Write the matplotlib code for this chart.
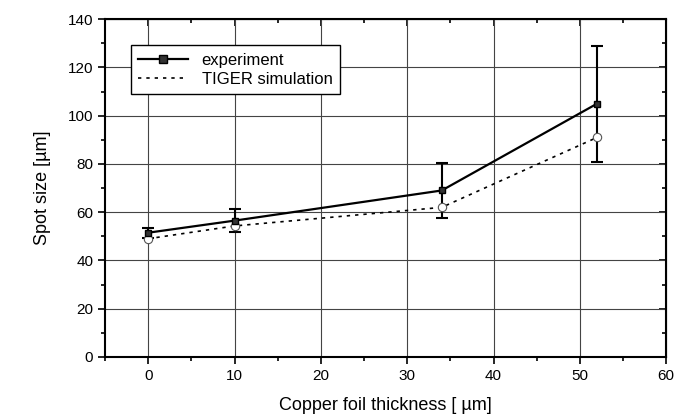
import matplotlib
matplotlib.use("Agg")
import matplotlib.pyplot as plt
from matplotlib.lines import Line2D
from matplotlib.ticker import MultipleLocator

plt.rcParams['font.family'] = ['Liberation Sans', 'DejaVu Sans']

# data
thickness = [0, 10, 34, 52]
exp_size = [51.5, 56.5, 69, 105]
exp_err = [2, 4.8, 11.5, 24]
sim_size = [49, 54.3, 62, 91]

fig = plt.figure(figsize=(6.84, 4.17), dpi=100)
ax = fig.add_axes([0.1535, 0.144, 0.8205, 0.81])

ax.errorbar(thickness, exp_size, yerr=exp_err, color='black', lw=1.6,
            marker='s', ms=5, mfc='#333333', mec='black', capsize=4,
            capthick=1.5, elinewidth=1.5, zorder=3)
ax.plot(thickness, sim_size, color='black', ls=(0, (2, 3)), lw=1.2,
        marker='o', ms=6, mfc='white', mec='#555555', mew=0.8, zorder=3)

ax.set_xlim(-5, 60)
ax.set_ylim(0, 140)
ax.xaxis.set_major_locator(MultipleLocator(10))
ax.xaxis.set_minor_locator(MultipleLocator(5))
ax.yaxis.set_major_locator(MultipleLocator(20))
ax.yaxis.set_minor_locator(MultipleLocator(10))
ax.grid(True, which='major', color='#444444', lw=0.8)

ax.tick_params(which='both', direction='out', labelsize=11, width=1.2)
ax.tick_params(which='major', length=5)
ax.tick_params(which='minor', length=3)
for s in ax.spines.values():
    s.set_linewidth(1.5)

# inward ticks on top and right
axt = ax.secondary_xaxis('top')
axt.xaxis.set_major_locator(MultipleLocator(10))
axt.xaxis.set_minor_locator(MultipleLocator(5))
axt.tick_params(which='both', direction='in', labeltop=False, width=1.2)
axt.tick_params(which='major', length=5)
axt.tick_params(which='minor', length=3)
axr = ax.secondary_yaxis('right')
axr.yaxis.set_major_locator(MultipleLocator(20))
axr.yaxis.set_minor_locator(MultipleLocator(10))
axr.tick_params(which='both', direction='in', labelright=False, width=1.2)
axr.tick_params(which='major', length=5)
axr.tick_params(which='minor', length=3)

ax.set_xlabel('Copper foil thickness [ \u00b5m]', fontsize=13, labelpad=10)
ax.set_ylabel('Spot size [\u00b5m]', fontsize=13, labelpad=12)

handles = [Line2D([], [], color='black', lw=1.6, marker='s', ms=6,
                  mfc='#333333', mec='black'),
           Line2D([], [], color='black', lw=1.2, ls=(0, (2, 3)))]
leg = ax.legend(handles, ['experiment', 'TIGER simulation'],
                loc='upper left', bbox_to_anchor=(0.046, 0.923), fontsize=12,
                frameon=True, fancybox=False, edgecolor='black',
                framealpha=1, handlelength=3.0, borderpad=0.45,
                labelspacing=0.25, borderaxespad=0)
leg.get_frame().set_linewidth(1.0)

fig.savefig('out.png', dpi=100)
